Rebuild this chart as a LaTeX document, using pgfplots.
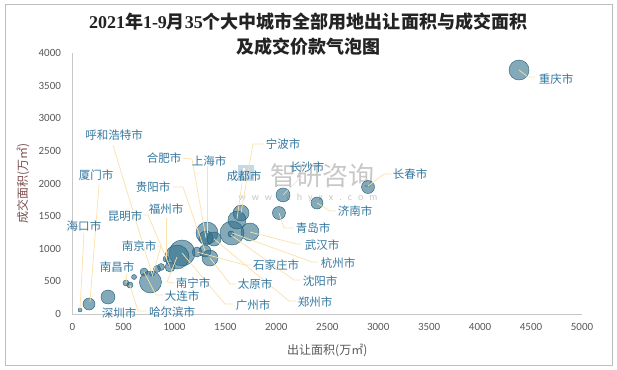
\documentclass[border=0pt]{standalone}
\usepackage{fontspec}
\usepackage{pgfplots}
\usepackage{pgfplotstable}
\pgfplotsset{compat=1.18}
\setmainfont{Carlito}
\newfontfamily\cjk{Noto Sans CJK SC}
\newfontfamily\tser{Liberation Serif}
\definecolor{bfill}{RGB}{50,112,138}
\definecolor{bedge}{RGB}{30,92,120}
\definecolor{lbl}{RGB}{52,120,160}
\definecolor{lead}{RGB}{250,226,170}
\definecolor{tickc}{RGB}{89,89,89}
\definecolor{framec}{RGB}{190,190,190}
\definecolor{axisc}{RGB}{200,200,200}
\definecolor{ylab}{RGB}{125,80,80}
\definecolor{wm}{RGB}{200,200,200}
\definecolor{logoc}{RGB}{196,216,232}
\definecolor{titlec}{RGB}{35,35,35}

% x = land supplied, y = land sold, r = bubble radius (pt)
\pgfplotstableread{
x y r
4382 3739 10
2900 1946 6.5
2399 1701 6
2066 1824 7
2026 1548 6.5
1742 1257 9
1565 1241 12
1555 1226 3
1654 1548 8
1614 1441 9
1320 1241 11
1310 1165 7
1389 1149 7
1300 966 6
1349 858 8
1222 950 5
1075 935 13
1026 874 12
957 720 5
918 843 3
869 720 3.5
829 690 3.5
780 613 2.5
702 644 4
765 490 11
604 567 2.5
564 444 3
525 475 3
348 260 7
162 153 6
74 61 2
}\bubbles

\tikzset{px/.style={x=1pt,y=-1pt,shift={(-72.5pt,314pt)}}}

\begin{document}
\begin{tikzpicture}
\path[use as bounding box] (-72.5pt,-55pt) rectangle (544.5pt,314pt);
\fill[white] (-72.5pt,-55pt) rectangle (544.5pt,314pt);
\draw[framec, line width=0.8pt] (-67.5pt,-51pt) rectangle (539.5pt,310pt);

% title and watermark
\begin{scope}[px]
\node[font=\cjk\bfseries\fontsize{18}{22}\selectfont, text=titlec] at (308,22)
  {{\tser\bfseries 2021}年{\tser\bfseries 1-9}月{\tser\bfseries 35}个大中城市全部用地出让面积与成交面积};
\node[font=\cjk\bfseries\fontsize{18}{22}\selectfont, text=titlec] at (308,47) {及成交价款气泡图};
\fill[logoc] (238,165) rectangle (254,181);
\fill[white] (243,168) rectangle (245,178);
\node[font=\cjk\fontsize{26}{26}\selectfont, text=wm] at (322,176) {智研咨询};
\node[font=\fontsize{10}{10}\selectfont, text=wm] at (308,198)
  {w\hspace{6pt}w\hspace{6pt}w\hspace{6pt}.\hspace{6pt}c\hspace{6pt}h\hspace{6pt}y\hspace{6pt}x\hspace{6pt}x\hspace{6pt}.\hspace{6pt}c\hspace{6pt}o\hspace{6pt}m};
\end{scope}

\begin{axis}[
  at={(0,0)}, anchor=south west,
  scale only axis, width=509.5pt, height=261pt,
  xmin=0, xmax=5000, ymin=0, ymax=4000,
  xtick={0,500,...,5000}, ytick={0,500,...,4000},
  scaled ticks=false,
  /pgf/number format/1000 sep={},
  /pgf/number format/assume math mode=true,
  axis lines=left,
  axis line style={-, draw=axisc, line width=0.8pt},
  major tick length=0pt,
  tick label style={font=\fontsize{11}{12}\selectfont, text=tickc},
  xticklabel style={yshift=-6pt},
  yticklabel style={xshift=-8pt},
  clip=false,
  xlabel={出让面积(万㎡)},
  ylabel={成交面积(万㎡)},
  every axis x label/.style={at={(axis description cs:0.5,-0.138)}, anchor=center, font=\cjk\fontsize{12}{14}\selectfont, text=tickc},
  every axis y label/.style={at={(axis description cs:-0.0972,0.5)}, rotate=90, anchor=center, font=\cjk\fontsize{12}{14}\selectfont, text=ylab},
]
\addplot[only marks, mark=*, scatter,
  fill opacity=0.6, draw opacity=1,
  mark options={fill opacity=0.6, draw opacity=1},
  point meta={\thisrow{r}},
  scatter/use mapped color={draw=bedge, fill=bfill, fill opacity=0.6},
  visualization depends on={\thisrow{r} \as \rad},
  scatter/@pre marker code/.append style={/tikz/mark size=\rad, /tikz/line width=0.8pt, /tikz/fill opacity=0.6}
] table[x=x, y=y] {\bubbles};
\end{axis}

% leader lines and data labels
\begin{scope}[px]
\begin{scope}[lead, line width=0.7pt]
\draw (519,70) -- (528,77) -- (535,77);
\draw (368,186) -- (384,174) -- (391,174);
\draw (283,195) -- (302,176);
\draw (317,203) -- (330,211) -- (336,211);
\draw (279,213) -- (284,228) -- (294,228);
\draw (250,232) -- (297,244) -- (302,244);
\draw (232,233) -- (312,262) -- (318,262);
\draw (231,235) -- (294,280) -- (300,280);
\draw (214,239) -- (289,301) -- (296,301);
\draw (197,252) -- (245,265) -- (251,265);
\draw (210,258) -- (230,284) -- (236,284);
\draw (182,253) -- (225,304) -- (233,304);
\draw (177,257) -- (167,282) -- (174,283);
\draw (166,218) -- (166,259);
\draw (143,215) -- (148,215) -- (170,267);
\draw (157,246) -- (161,246) -- (152,277);
\draw (113,145) -- (152,274);
\draw (163,295) -- (156,295) -- (144,272);
\draw (147,311) -- (138,311) -- (130,285);
\draw (127,273) -- (126,283);
\draw (99,185) -- (90,302);
\draw (84,233) -- (80,309);
\draw (182,158) -- (192,159) -- (206,238);
\draw (207,166) -- (207,233);
\draw (242,183) -- (237,219);
\draw (264,144) -- (253,144) -- (241,213);
\draw (205,251) -- (183,187) -- (173,187);
\end{scope}
\begin{scope}[every node/.style={font=\cjk\fontsize{11.5}{12}\selectfont, text=lbl, inner sep=0pt}]
\node at (556,79) {重庆市};
\node at (410,174) {长春市};
\node at (307,167) {长沙市};
\node at (355,211) {济南市};
\node at (313,228) {青岛市};
\node at (322,245) {武汉市};
\node at (338,263) {杭州市};
\node at (320,281) {沈阳市};
\node at (315,302) {郑州市};
\node at (276,265) {石家庄市};
\node at (255,284) {太原市};
\node at (253,305) {广州市};
\node at (193,283) {南宁市};
\node at (182,296) {大连市};
\node at (172,312) {哈尔滨市};
\node at (119,313) {深圳市};
\node at (117,267) {南昌市};
\node at (139,246) {南京市};
\node at (125,216) {昆明市};
\node at (166,209) {福州市};
\node at (153,187) {贵阳市};
\node at (164,158) {合肥市};
\node at (209,161) {上海市};
\node at (244,176) {成都市};
\node at (283,144) {宁波市};
\node at (114,135) {呼和浩特市};
\node at (96,175) {厦门市};
\node at (84,226) {海口市};
\end{scope}
\end{scope}
\end{tikzpicture}
\end{document}
